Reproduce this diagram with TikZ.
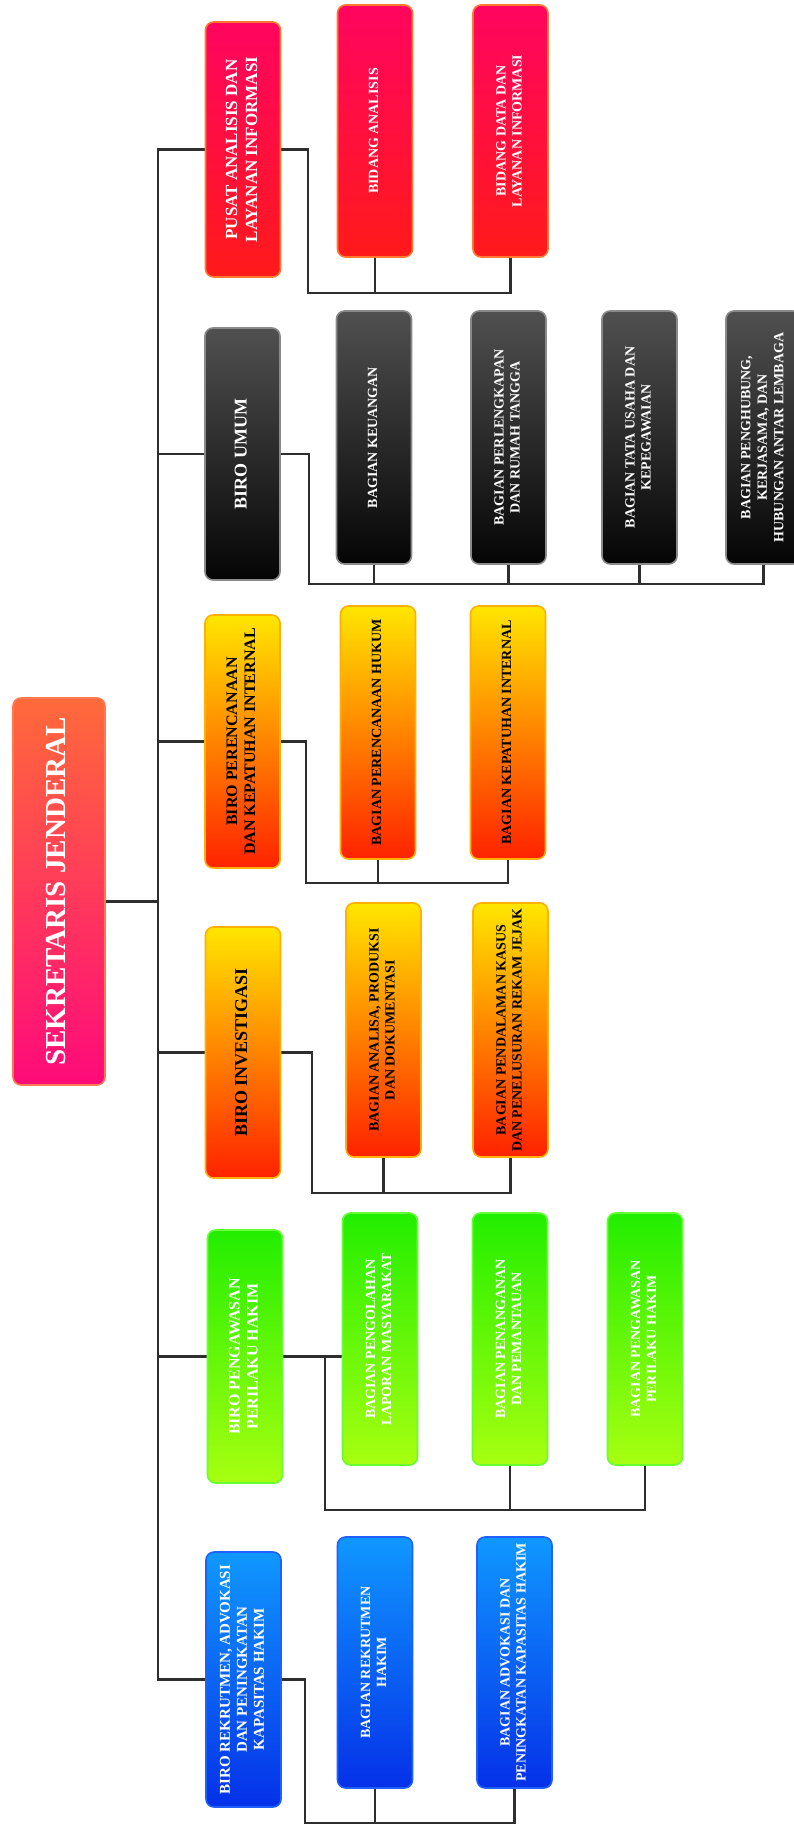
\documentclass[tikz,border=0pt]{standalone}
\usepackage{fontspec}
\setmainfont{Liberation Serif}
\pgfdeclarelayer{bg}
\pgfsetlayers{bg,main}
\definecolor{mainT}{HTML}{FF6A3A}
\definecolor{mainB}{HTML}{FF0A7A}
\definecolor{mainD}{HTML}{FF7A50}
\definecolor{redT}{HTML}{FF0560}
\definecolor{redB}{HTML}{FF1A1A}
\definecolor{redD}{HTML}{FF7A30}
\definecolor{blkT}{HTML}{505050}
\definecolor{blkB}{HTML}{050505}
\definecolor{blkD}{HTML}{8A8A8A}
\definecolor{orgT}{HTML}{FFE600}
\definecolor{orgB}{HTML}{FF2200}
\definecolor{orgD}{HTML}{FFB000}
\definecolor{grnT}{HTML}{22EE00}
\definecolor{grnB}{HTML}{A8FF10}
\definecolor{grnD}{HTML}{66FF33}
\definecolor{bluT}{HTML}{1098FF}
\definecolor{bluB}{HTML}{0530E8}
\definecolor{bluD}{HTML}{2060FF}
\definecolor{lineC}{HTML}{2E2E2E}
\newcommand{\vtxt}[3]{\rotatebox{90}{\fontsize{#1}{#2}\selectfont\bfseries\begin{tabular}{@{}c@{}}#3\end{tabular}}}
\begin{document}
\begin{tikzpicture}[x=1pt,y=-1pt,
  box/.style={rounded corners=8pt, line width=1.6pt, inner sep=0pt, minimum width=75pt, minimum height=253pt},
  mainbox/.style={box, top color=mainT, bottom color=mainB, draw=mainD, text=white, minimum width=92pt, minimum height=387pt},
  redbox/.style={box, top color=redT, bottom color=redB, draw=redD, text=white},
  blkbox/.style={box, top color=blkT, bottom color=blkB, draw=blkD, text=white},
  orgbox/.style={box, top color=orgT, bottom color=orgB, draw=orgD, text=black},
  grnbox/.style={box, top color=grnT, bottom color=grnB, draw=grnD, text=white},
  blubox/.style={box, top color=bluT, bottom color=bluB, draw=bluD, text=white},
  link/.style={draw=lineC, line width=2.5pt, line cap=rect}
]
\useasboundingbox (0,0) rectangle (793,1825);

% main
\node[mainbox] (main) at (59,891.5) {\vtxt{29}{30}{SEKRETARIS JENDERAL}};
\coordinate (tT) at (158,149.5);
\coordinate (tB) at (158,1679.5);

% row 1
\node[redbox, minimum height=255pt] (p0) at (243,149.5) {\vtxt{17}{20}{PUSAT ANALISIS DAN\\LAYANAN INFORMASI}};
\node[redbox, minimum height=252pt] (p1) at (375,131) {\vtxt{14}{16}{BIDANG ANALISIS}};
\node[redbox, minimum height=252pt] (p2) at (510.5,131) {\vtxt{14}{16}{BIDANG DATA DAN\\LAYANAN INFORMASI}};
\coordinate (pbus) at (308,293);

% row 2
\node[blkbox, minimum height=252pt] (u0) at (242.5,454) {\vtxt{18}{20}{BIRO UMUM}};
\node[blkbox] (u1) at (374,437.5) {\vtxt{14}{16}{BAGIAN KEUANGAN}};
\node[blkbox] (u2) at (508.5,437.5) {\vtxt{14}{16}{BAGIAN PERLENGKAPAN\\DAN RUMAH TANGGA}};
\node[blkbox] (u3) at (639.5,437.5) {\vtxt{14}{16}{BAGIAN TATA USAHA DAN\\KEPEGAWAIAN}};
\node[blkbox] (u4) at (763.5,437.5) {\vtxt{14}{16.5}{BAGIAN PENGHUBUNG,\\KERJASAMA, DAN\\HUBUNGAN ANTAR LEMBAGA}};
\coordinate (ubus) at (309,584);

% row 3
\node[orgbox] (o0) at (242.5,741.5) {\vtxt{16}{18}{BIRO PERENCANAAN\\DAN KEPATUHAN INTERNAL}};
\node[orgbox] (o1) at (378,732.5) {\vtxt{14}{16}{BAGIAN PERENCANAAN HUKUM}};
\node[orgbox] (o2) at (508,732.5) {\vtxt{14}{16}{BAGIAN KEPATUHAN INTERNAL}};
\coordinate (obus) at (306,883);

% row 4
\node[orgbox, minimum height=251pt] (i0) at (243,1052.5) {\vtxt{18}{20}{BIRO INVESTIGASI}};
\node[orgbox, minimum height=254pt] (i1) at (383.5,1030) {\vtxt{14}{16}{BAGIAN ANALISA, PRODUKSI\\DAN DOKUMENTASI}};
\node[orgbox, minimum height=254pt] (i2) at (510.5,1030) {\vtxt{14}{16}{BAGIAN PENDALAMAN KASUS\\DAN PENELUSURAN REKAM JEJAK}};
\coordinate (ibus) at (312,1193);

% row 5
\node[grnbox] (g0) at (245,1356.5) {\vtxt{16}{18}{BIRO PENGAWASAN\\PERILAKU HAKIM}};
\node[grnbox, minimum height=252pt] (g1) at (380,1339) {\vtxt{14}{16}{BAGIAN PENGOLAHAN\\LAPORAN MASYARAKAT}};
\node[grnbox, minimum height=252pt] (g2) at (510,1339) {\vtxt{14}{16}{BAGIAN PENANGANAN\\DAN PEMANTAUAN}};
\node[grnbox, minimum height=252pt] (g3) at (645,1339) {\vtxt{14}{16}{BAGIAN PENGAWASAN\\PERILAKU HAKIM}};
\coordinate (gbus) at (325,1510);

% row 6
\node[blubox, minimum height=255pt] (b0) at (243.5,1679.5) {\vtxt{15}{17}{BIRO REKRUTMEN, ADVOKASI\\DAN PENINGKATAN\\KAPASITAS HAKIM}};
\node[blubox, minimum height=251pt] (b1) at (375,1662.5) {\vtxt{14}{16}{BAGIAN REKRUTMEN\\HAKIM}};
\node[blubox, minimum height=251pt] (b2) at (514.5,1662.5) {\vtxt{14}{16}{BAGIAN ADVOKASI DAN\\PENINGKATAN KAPASITAS HAKIM}};
\coordinate (bbus) at (305,1823);

\begin{pgfonlayer}{bg}
\fill[white] (0,0) rectangle (793,1825);
% trunk
\draw[link] (tT) -- (tB);
\draw[link] ([yshift=-10pt]main.east) -- ([yshift=-10pt]main.east -| tT);
\foreach \n in {p0,u0,o0,i0,g0,b0}{
  \draw[link] (\n.west) -- (\n.west -| tT);
}
% row buses
\draw[link] (p0.east) -| (pbus) -| (p2.south);
\draw[link] (p1.south) -- (p1.south |- pbus);
\draw[link] (u0.east) -| (ubus) -| (u4.south);
\foreach \n in {u1,u2,u3}{
  \draw[link] (\n.south) -- (\n.south |- ubus);
}
\draw[link] (o0.east) -| (obus) -| (o2.south);
\draw[link] (o1.south) -- (o1.south |- obus);
\draw[link] (i0.east) -| (ibus) -| (i2.south);
\draw[link] (i1.south) -- (i1.south |- ibus);
\draw[link] (g0.east) -- (g0.east -| g1.west);
\draw[link] (g0.east -| gbus) -- (gbus) -| (g3.south);
\draw[link] (g2.south) -- (g2.south |- gbus);
\draw[link] (b0.east) -| (bbus) -| (b2.south);
\draw[link] (b1.south) -- (b1.south |- bbus);
\end{pgfonlayer}
\end{tikzpicture}
\end{document}
